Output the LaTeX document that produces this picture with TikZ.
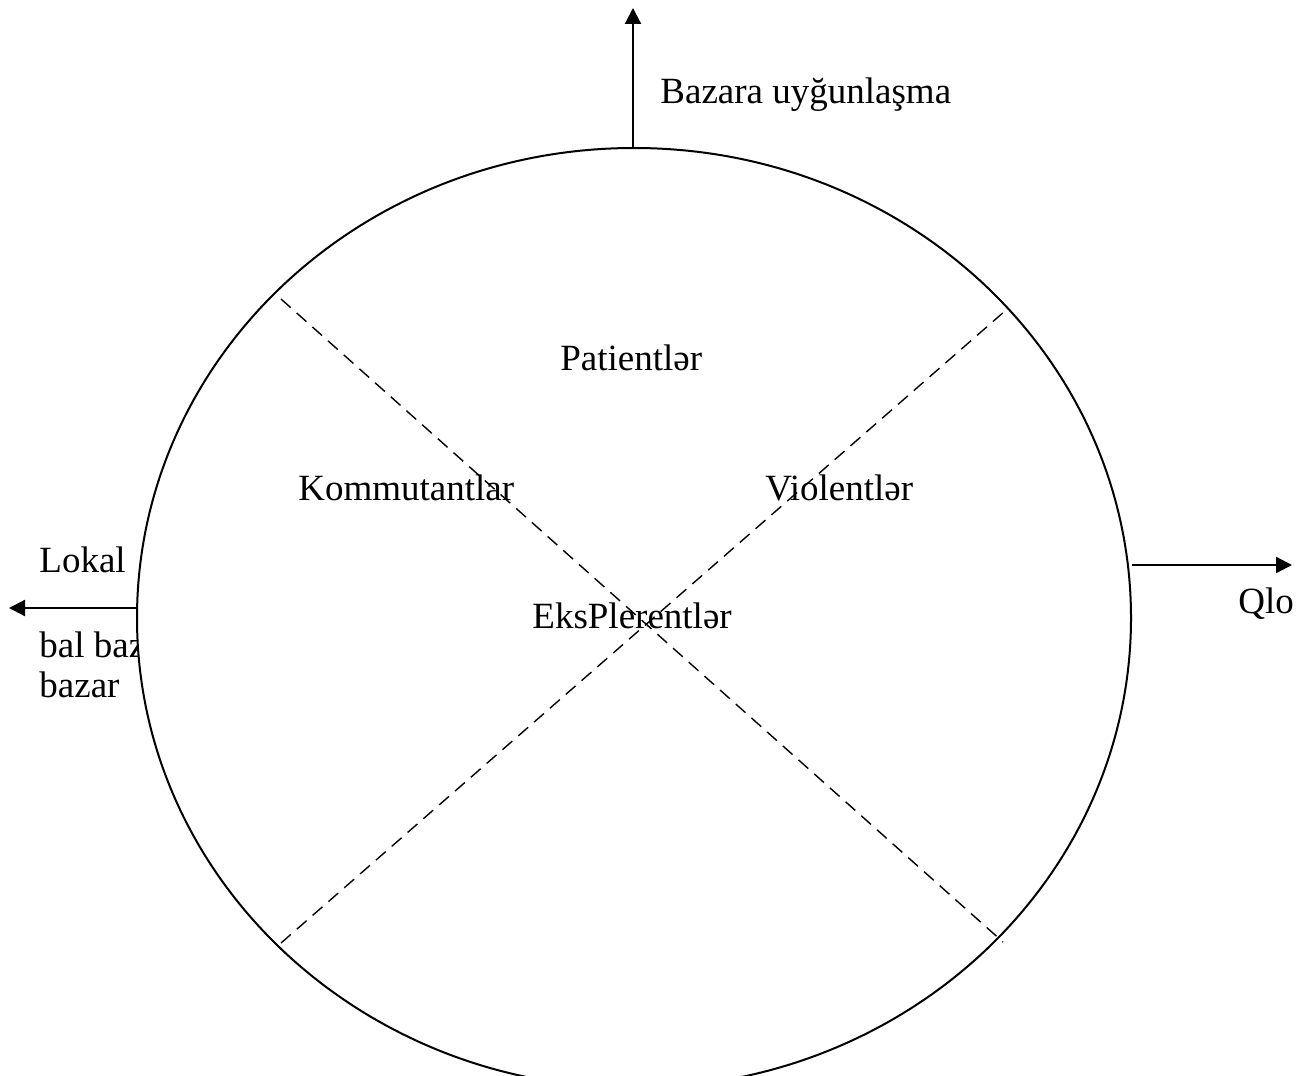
\documentclass[tikz,border=0pt]{standalone}
\usepackage{fontspec}
\setmainfont{Liberation Serif}
\usetikzlibrary{arrows.meta,shapes.geometric}
\begin{document}
\begin{tikzpicture}[x=0.5pt,y=-0.5pt,
  lbl/.style={inner sep=0pt,anchor=base west,font=\fontsize{18.5pt}{22pt}\selectfont},
  axis/.style={line width=1.1pt,-{Triangle[length=8pt,width=8pt]}},
  divider/.style={line width=0.7pt,dash pattern=on 6.5pt off 4pt}]
\useasboundingbox (0,0) rectangle (1310,1075);
% labels of the horizontal axis, partly hidden behind the ellipse
\node[lbl] (lokal) at (39,572) {Lokal};
\node[lbl] (balbaz) at (39,657) {bal baz};
\node[lbl] (bazar) at (39,697) {bazar};
\node[lbl] (qlo) at (1238,613) {Qlo};
% main ellipse
\node[draw,fill=white,line width=1pt,ellipse,inner sep=0pt,
      minimum width=497pt,minimum height=470pt] (E) at (634,618) {};
% points where the axes leave the ellipse
\coordinate (top) at (633,148);
\coordinate (lft) at (137,608);
\coordinate (rgt) at (1132,565);
\coordinate (upend) at (633,8);
\coordinate (lfend) at (9,608);
\coordinate (rtend) at (1292,565);
\draw[axis] (top) -- (upend);
\draw[axis] (lft) -- (lfend);
\draw[axis] (rgt) -- (rtend);
% diagonal dividers
\coordinate (d1a) at (281,299);
\coordinate (d1b) at (1003,942);
\coordinate (d2a) at (281,943);
\coordinate (d2b) at (1005,311);
\draw[divider] (d1a) -- (d1b);
\draw[divider] (d2a) -- (d2b);
% texts
\node[lbl] (ttl) at (660,104) {Bazara uyğunlaşma};
\node[lbl] (pat) at (560,370) {Patientlər};
\node[lbl] (kom) at (298,500) {Kommutantlar};
\node[lbl] (vio) at (765,500) {Violentlər};
\node[lbl] (eks) at (532,628) {EksPlerentlər};
\end{tikzpicture}
\end{document}
